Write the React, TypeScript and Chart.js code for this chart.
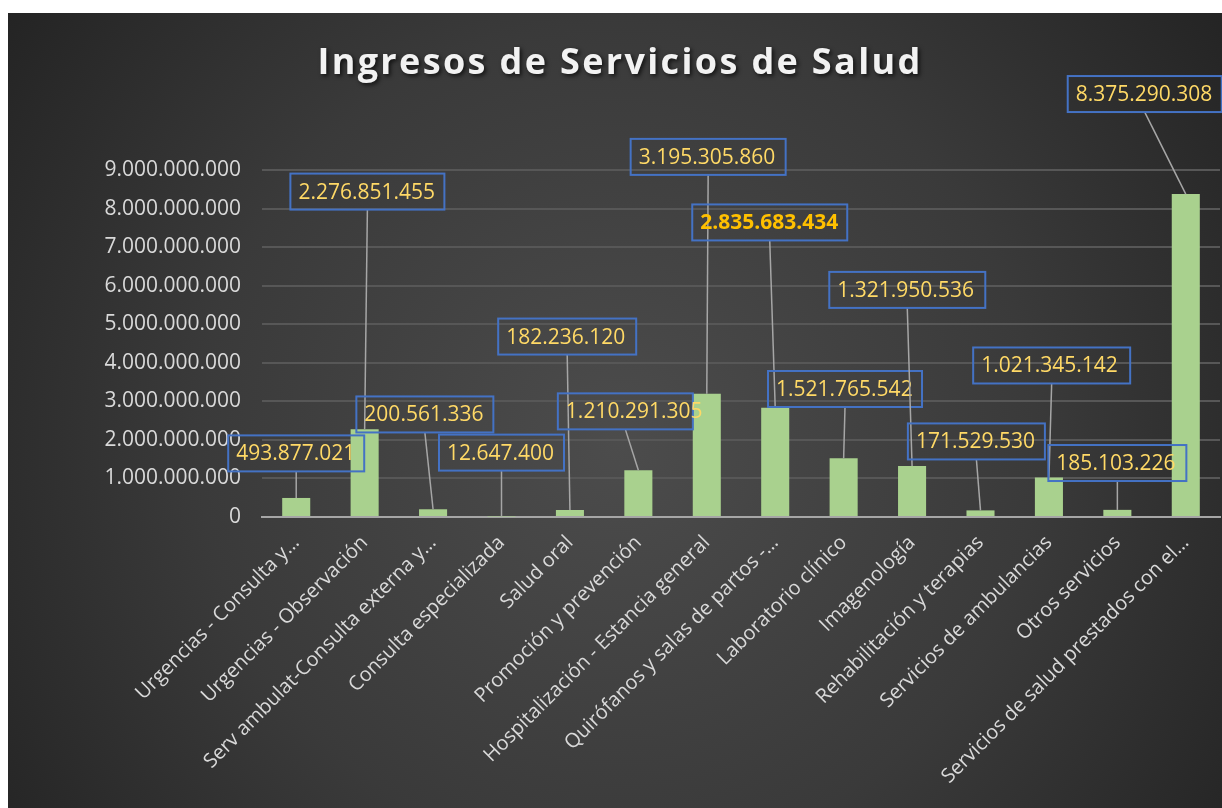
import React, { useEffect, useRef } from 'react';
import { Chart, registerables } from 'chart.js';

Chart.register(...registerables);

const titleText = 'Ingresos de Servicios de Salud';

const categories = [
  'Urgencias - Consulta y…',
  'Urgencias - Observación',
  'Serv ambulat-Consulta externa y…',
  'Consulta especializada',
  'Salud oral',
  'Promoción y prevención',
  'Hospitalización - Estancia general',
  'Quirófanos y salas de partos -…',
  'Laboratorio clínico',
  'Imagenología',
  'Rehabilitación y terapias',
  'Servicios de ambulancias',
  'Otros servicios',
  'Servicios de salud prestados con el…',
];

const values = [
  493877021, 2276851455, 200561336, 12647400, 182236120, 1210291305, 3195305860,
  2835683434, 1521765542, 1321950536, 171529530, 1021345142, 185103226, 8375290308,
];

const yTickMin = 0;
const yTickMax = 9000000000;
const yTickStep = 1000000000;

// label box placement: horizontal shift (in categories) and vertical centre (in data units)
const labelShift = [0, 0.04, -0.12, 0, -0.04, -0.19, 0.02, -0.08, 0.02, -0.07, -0.06, 0.04, 0, -0.6];
const labelLevel = [
  1.65e9, 8.44e9, 2.66e9, 1.67e9, 4.68e9, 2.74e9, 9.34e9, 7.64e9, 3.32e9, 5.89e9, 1.96e9, 3.93e9,
  1.4e9, 10.97e9,
];
const labelBoxWidth = [136, 154, 137, 125, 138, 135, 155, 155, 154, 156, 137, 157, 138, 154];
const labelBold = [false, false, false, false, false, false, false, true, false, false, false, false, false, false];

const fmt = (v: number) => String(Math.round(v)).replace(/\B(?=(\d{3})+(?!\d))/g, '.');

const W = 1214;
const H = 795;

const bgPlugin = {
  id: 'bgGradient',
  beforeDraw(chart: any) {
    const ctx = chart.ctx;
    ctx.save();
    const g = ctx.createRadialGradient(610, 430, 0, 610, 430, 760);
    g.addColorStop(0, '#4c4c4c');
    g.addColorStop(0.55, '#3a3a3a');
    g.addColorStop(1, '#232323');
    ctx.fillStyle = g;
    ctx.fillRect(0, 0, chart.width, chart.height);
    ctx.restore();
  },
};

const titlePlugin = {
  id: 'spacedTitle',
  afterDraw(chart: any) {
    const ctx = chart.ctx;
    ctx.save();
    ctx.font = 'bold 36px "Open Sans"';
    (ctx as any).letterSpacing = '2.35px';
    ctx.textAlign = 'center';
    ctx.textBaseline = 'alphabetic';
    ctx.shadowColor = 'rgba(0,0,0,0.7)';
    ctx.shadowBlur = 4;
    ctx.shadowOffsetX = 2;
    ctx.shadowOffsetY = 2;
    ctx.fillStyle = '#f2f2f2';
    ctx.fillText(titleText, chart.width / 2 + 5, 61);
    ctx.restore();
  },
};

const labelPlugin = {
  id: 'boxLabels',
  afterDatasetsDraw(chart: any) {
    const ctx = chart.ctx;
    const xs = chart.scales.x;
    const ys = chart.scales.y;
    const meta = chart.getDatasetMeta(0);
    const step = xs.getPixelForValue(1) - xs.getPixelForValue(0);
    ctx.save();
    meta.data.forEach((bar: any, i: number) => {
      const bx = bar.x;
      const by = bar.y;
      const cx = bx + labelShift[i] * step;
      const cy = ys.getPixelForValue(labelLevel[i]);
      const text = fmt(values[i]);
      ctx.font = (labelBold[i] ? 'bold ' : '') + '21px "Open Sans"';
      const w = labelBoxWidth[i];
      const h = 36;
      const bottom = cy + h / 2;
      if (bottom < by) {
        ctx.strokeStyle = '#a6a6a6';
        ctx.lineWidth = 1.5;
        ctx.beginPath();
        ctx.moveTo(cx, bottom);
        ctx.lineTo(bx, by);
        ctx.stroke();
      }
      ctx.strokeStyle = '#4472c4';
      ctx.lineWidth = 2;
      ctx.strokeRect(cx - w / 2, cy - h / 2, w, h);
      ctx.fillStyle = labelBold[i] ? '#ffc000' : '#ffd966';
      ctx.textAlign = 'left';
      ctx.textBaseline = 'middle';
      ctx.fillText(text, cx - w / 2 + 8, cy + 1);
    });
    ctx.restore();
  },
};

export default function App() {
  const ref = useRef<HTMLCanvasElement | null>(null);
  useEffect(() => {
    if (!ref.current) return;
    const chart = new Chart(ref.current, {
      type: 'bar',
      data: {
        labels: categories,
        datasets: [
          {
            data: values,
            backgroundColor: '#a9d18e',
            borderWidth: 0,
            barPercentage: 0.41,
            categoryPercentage: 1,
          },
        ],
      },
      options: {
        animation: false,
        responsive: false,
        devicePixelRatio: 1,
        layout: { padding: { top: 157, right: 2, left: 0, bottom: 0 } },
        plugins: {
          legend: { display: false },
          title: { display: false },
          tooltip: { enabled: false },
        },
        scales: {
          x: {
            grid: { display: false, drawTicks: false },
            border: { display: true, color: '#a6a6a6', width: 2 },
            ticks: {
              autoSkip: false,
              maxRotation: 45,
              minRotation: 45,
              padding: 14,
              color: '#d9d9d9',
              font: { family: '"Open Sans"', size: 20 },
            },
            afterFit: (s: any) => {
              s.height = 291;
            },
          },
          y: {
            min: yTickMin,
            max: yTickMax,
            grid: { color: '#575757', lineWidth: 2, drawTicks: false },
            border: { display: false },
            ticks: {
              stepSize: yTickStep,
              padding: 21,
              color: '#d9d9d9',
              font: { family: '"Open Sans"', size: 21 },
              callback: (v: any) => fmt(Number(v)),
            },
            afterFit: (s: any) => {
              s.width = 254;
            },
          },
        },
      },
      plugins: [bgPlugin, labelPlugin, titlePlugin],
    });
    return () => chart.destroy();
  }, []);
  return (
    <div style={{ position: 'fixed', left: 8, top: 13, width: W, height: H }}>
      <canvas ref={ref} width={W} height={H} style={{ width: W, height: H, display: 'block' }} />
    </div>
  );
}
